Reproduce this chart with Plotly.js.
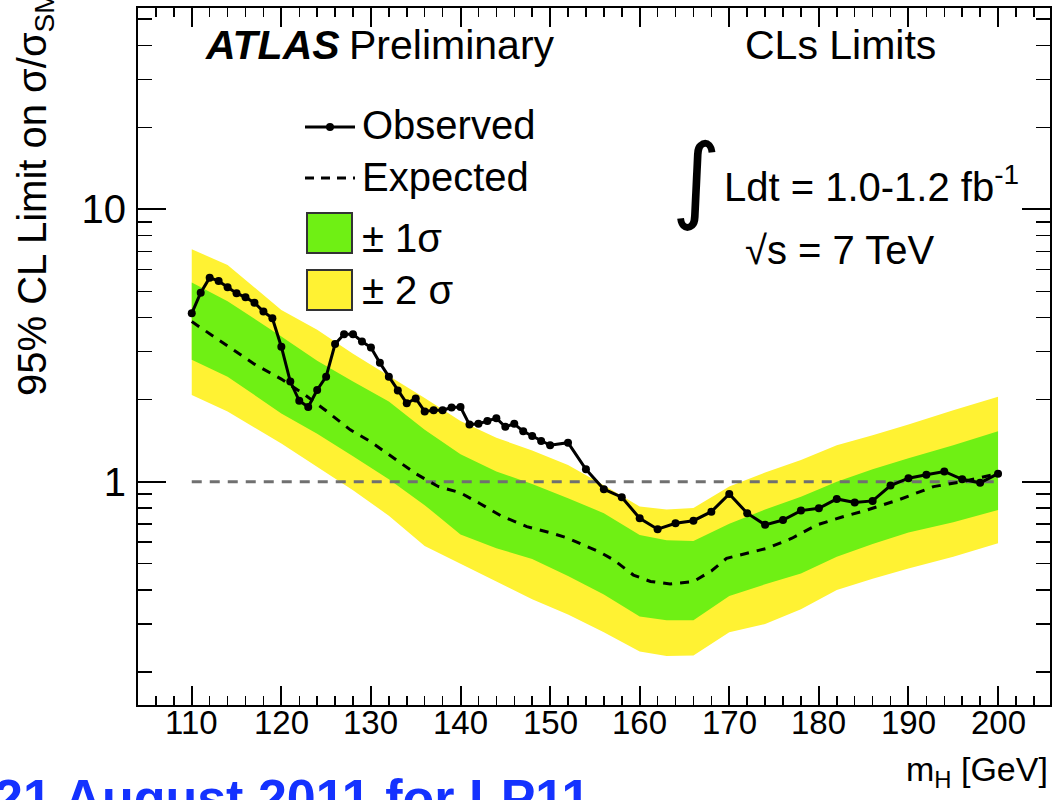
<!DOCTYPE html>
<html>
<head>
<meta charset="utf-8">
<script src="https://cdn.plot.ly/plotly-3.0.1.min.js"></script>
<style>html,body{margin:0;padding:0;background:#fff;}#chart{width:1052px;height:800px;}</style>
</head>
<body>
<div id="chart"></div>
<script>
// ---------- data ----------
const obsMass = [110,111,112,113,114,115,116,117,118,119,120,121,122,123,124,125,126,127,128,129,130,131,132,133,134,135,136,137,138,139,140,141,142,143,144,145,146,147,148,149,150,152,154,156,158,160,162,164,166,168,170,172,174,176,178,180,182,184,186,188,190,192,194,196,198,200];
const observed = [4.15,4.94,5.61,5.45,5.17,4.92,4.75,4.54,4.21,3.98,3.13,2.33,1.98,1.88,2.17,2.43,3.20,3.48,3.48,3.27,3.11,2.73,2.43,2.16,1.94,2.02,1.81,1.83,1.83,1.87,1.88,1.62,1.63,1.67,1.71,1.59,1.63,1.53,1.47,1.41,1.36,1.39,1.11,0.938,0.877,0.734,0.669,0.703,0.719,0.776,0.901,0.766,0.694,0.723,0.783,0.798,0.864,0.838,0.850,0.967,1.03,1.06,1.09,1.02,0.99,1.07];

const expMass = [110,114,117,120,122.5,125,127.7,130,132.6,135,137.5,140,142.2,144.5,147.4,150,152,155.6,157.1,159.3,161.2,163.4,166,168,169.7,172,174.2,177,179.8,182.5,185.4,189,192.8,196,200];
const expected = [3.87,3.15,2.70,2.38,2.10,1.82,1.55,1.40,1.22,1.07,0.96,0.91,0.83,0.75,0.684,0.65,0.62,0.55,0.516,0.454,0.43,0.421,0.43,0.47,0.523,0.545,0.569,0.62,0.694,0.74,0.787,0.86,0.959,1.0,1.07];

const bandMass = [110,114,120,124,128,132,136,140,144,148,152,156,160,163,166,170,174,178,182,186,190,195,200];
const plus2  = [7.13,6.25,4.27,3.61,2.95,2.45,2.03,1.67,1.45,1.30,1.15,0.97,0.81,0.79,0.80,0.96,1.08,1.20,1.36,1.48,1.62,1.83,2.05];
const plus1  = [5.38,4.60,3.41,2.78,2.33,1.97,1.55,1.26,1.09,0.98,0.87,0.766,0.637,0.61,0.605,0.70,0.79,0.88,1.00,1.11,1.22,1.36,1.53];
const minus1 = [2.80,2.43,1.78,1.50,1.24,1.02,0.82,0.64,0.57,0.52,0.45,0.385,0.32,0.31,0.31,0.38,0.42,0.46,0.53,0.59,0.65,0.71,0.787];
const minus2 = [2.08,1.81,1.38,1.13,0.93,0.75,0.58,0.50,0.43,0.37,0.325,0.28,0.238,0.229,0.23,0.28,0.30,0.34,0.40,0.44,0.48,0.53,0.594];

const xTickVals = [110,120,130,140,150,160,170,180,190,200];
const xTickText = ['110','120','130','140','150','160','170','180','190','200'];
const yTickVals = [1,10];
const yTickText = ['1','10'];
const yMinorVals = [0.2,0.3,0.4,0.5,0.6,0.7,0.8,0.9,2,3,4,5,6,7,8,9,20,30,40,50];
const smLine = 1;

// ---------- layout helpers (pixel -> paper) ----------
const W = 1052, H = 800, PL = 138, PR = 1050, PT = 8, PB = 705;
const px = x => (x - PL) / (PR - PL);
const py = y => (PB - y) / (PB - PT);

const YEL = 'rgb(255,242,51)';
const GRN = 'rgb(111,240,20)';
const FONT = 'Liberation Sans, Arial, sans-serif';

const traces = [
  {x: bandMass, y: minus2, mode: 'lines', line: {width: 0, color: YEL}, hoverinfo: 'skip', showlegend: false},
  {x: bandMass, y: plus2, mode: 'lines', line: {width: 0, color: YEL}, fill: 'tonexty', fillcolor: YEL, hoverinfo: 'skip', showlegend: false},
  {x: bandMass, y: minus1, mode: 'lines', line: {width: 0, color: GRN}, hoverinfo: 'skip', showlegend: false},
  {x: bandMass, y: plus1, mode: 'lines', line: {width: 0, color: GRN}, fill: 'tonexty', fillcolor: GRN, hoverinfo: 'skip', showlegend: false},
  {x: [110, 200], y: [smLine, smLine], mode: 'lines', line: {color: '#707070', width: 3, dash: '10px,8px'}, showlegend: false},
  {x: expMass, y: expected, mode: 'lines', line: {color: 'black', width: 3, dash: '9px,8px'}, showlegend: false},
  {x: obsMass, y: observed, mode: 'lines+markers', line: {color: 'black', width: 3}, marker: {color: 'black', size: 8}, showlegend: false, cliponaxis: false}
];

const txt = (x, y, text, size, extra) => Object.assign({
  xref: 'paper', yref: 'paper', x: px(x), y: py(y), text: text, showarrow: false,
  xanchor: 'left', yanchor: 'middle', font: {family: FONT, size: size, color: 'black'}
}, extra || {});

const annotations = [
  txt(203, 45, '<b><i>ATLAS</i></b>', 41),
  txt(347, 45, 'Preliminary', 41),
  txt(743, 45, 'CLs Limits', 41),
  txt(670, 178, '∫', 94, {font: {family: 'DejaVu Sans, sans-serif', size: 94, color: 'black'}}),
  txt(722, 184, 'Ldt = 1.0-1.2 fb<sup>-1</sup>', 40),
  txt(743, 250, '√s = 7 TeV', 40),
  txt(360, 125, 'Observed', 40),
  txt(360, 177, 'Expected', 40),
  txt(360, 238, '± 1σ', 40),
  txt(360, 290, '± 2 σ', 40),
  txt(35, 398, '95% CL Limit on σ/σ<sub>SM</sub>', 40, {textangle: -90, xanchor: 'center', yanchor: 'bottom'}),
  txt(1050, 771, 'm<sub>H</sub> [GeV]', 34, {xanchor: 'right'}),
  txt(-8, 767, '<b>21 August 2011 for LP11</b>', 52, {yanchor: 'top', font: {family: FONT, size: 52, color: 'rgb(20,50,255)'}})
];
// x tick labels, placed at the tick values through the x axis
xTickVals.forEach((v, i) => annotations.push({
  xref: 'x', yref: 'paper', x: v, y: py(722), text: xTickText[i], showarrow: false,
  xanchor: 'center', yanchor: 'middle', font: {family: FONT, size: 33, color: 'black'}
}));

const shapes = [
  {type: 'line', xref: 'paper', yref: 'paper', x0: px(305), x1: px(355), y0: py(127), y1: py(127), line: {color: 'black', width: 3}},
  {type: 'circle', xref: 'paper', yref: 'paper', x0: px(326), x1: px(334), y0: py(131), y1: py(123), fillcolor: 'black', line: {width: 0}},
  {type: 'line', xref: 'paper', yref: 'paper', x0: px(305), x1: px(355), y0: py(178), y1: py(178), line: {color: 'black', width: 3, dash: '9px,7px'}},
  {type: 'rect', xref: 'paper', yref: 'paper', x0: px(307), x1: px(352), y0: py(253), y1: py(213), fillcolor: GRN, line: {color: '#333', width: 2}},
  {type: 'rect', xref: 'paper', yref: 'paper', x0: px(307), x1: px(352), y0: py(310), y1: py(270), fillcolor: YEL, line: {color: '#333', width: 2}}
];

const layout = {
  width: W, height: H,
  margin: {l: PL, r: W - PR, t: PT, b: H - PB, pad: 0},
  paper_bgcolor: 'white', plot_bgcolor: 'white',
  showlegend: false,
  xaxis: {
    range: [104, 205.8], tickmode: 'array', tickvals: xTickVals, showticklabels: false,
    ticks: 'inside', ticklen: 19, tickwidth: 2, tickcolor: 'black',
    showline: true, linecolor: 'black', linewidth: 2, mirror: 'allticks',
    showgrid: false, zeroline: false,
    minor: {dtick: 2, tick0: 0, ticks: 'inside', ticklen: 9, tickwidth: 1.5, tickcolor: 'black', showgrid: false}
  },
  yaxis: {
    type: 'log', range: [-0.82, 1.739], tickmode: 'array', tickvals: yTickVals, ticktext: yTickText,
    ticks: 'inside', ticklen: 28, tickwidth: 2, tickcolor: 'black',
    showline: true, linecolor: 'black', linewidth: 2, mirror: 'allticks',
    showgrid: false, zeroline: false, ticklabelstandoff: 2,
    tickfont: {family: FONT, size: 40, color: 'black'},
    minor: {tickmode: 'array', tickvals: yMinorVals, ticks: 'inside', ticklen: 14, tickwidth: 1.5, tickcolor: 'black', showgrid: false}
  },
  annotations: annotations,
  shapes: shapes
};

Plotly.newPlot('chart', traces, layout, {displayModeBar: false, staticPlot: true});
</script>
</body>
</html>
